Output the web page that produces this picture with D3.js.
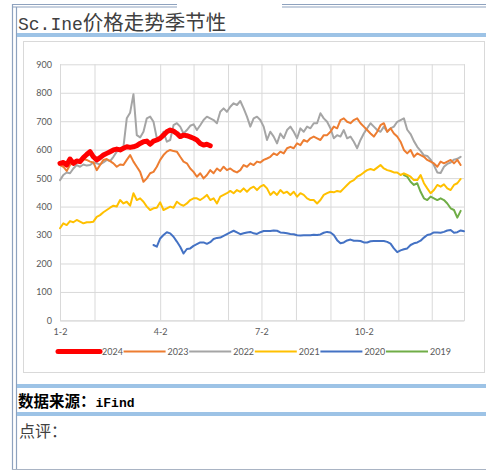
<!DOCTYPE html>
<html>
<head>
<meta charset="utf-8">
<script src="https://cdn.jsdelivr.net/npm/d3@7.9.0/dist/d3.min.js"></script>
<style>
  body { margin: 0; background: #fff; }
  svg { display: block; }
</style>
</head>
<body>
<svg id="chart" width="486" height="472"></svg>
<script>
// --- data (one value every 3 days) ---
const years = ['2024', '2023', '2022', '2021', '2020', '2019'];
const colors = ['#ff0000', '#ed7d31', '#a5a5a5', '#ffc000', '#4472c4', '#70ad47'];
const xTickLabels = ['1-2', '4-2', '7-2', '10-2'];
const gridDays = ['1-2', '2-2', '4-2', '5-2', '6-2', '7-2', '8-2', '9-2', '10-2', '11-2', '12-2', '12-31'];
const yTicks = [0, 100, 200, 300, 400, 500, 600, 700, 800, 900];
const stepDays = 3;
const startDays = [0, 0, 0, 0, 84, 309];

const s2024 = [552, 555, 546, 567, 552, 560, 558, 572, 583, 593, 575, 564, 572, 581, 587, 593, 599, 602, 599, 605,
  610, 608, 610, 614, 622, 628, 630, 619, 630, 634, 640, 651, 663, 669, 665, 657, 646, 651, 649, 645,
  640, 634, 622, 616, 619, 614];

const s2023 = [546, 540, 525, 546, 555, 560, 564, 567, 564, 558, 555, 528, 546, 564, 567, 560, 552, 540, 548, 546,
  564, 581, 558, 540, 522, 487, 499, 517, 522, 540, 564, 581, 593, 599, 595, 593, 575, 558, 552, 534, 522,
  505, 517, 499, 511, 528, 517, 534, 525, 540, 528, 534, 525, 520, 528, 546, 540, 552, 546, 558, 555,
  564, 569, 575, 587, 581, 593, 587, 605, 610, 605, 622, 616, 634, 628, 640, 646, 640, 634, 651, 651, 663,
  681, 675, 704, 710, 698, 693, 704, 710, 693, 681, 669, 657, 646, 663, 686, 693, 663, 675, 657, 646,
  628, 599, 587, 599, 575, 587, 581, 575, 564, 558, 552, 540, 558, 552, 558, 564, 552, 564, 546];

const s2022 = [493, 511, 520, 517, 534, 546, 540, 548, 544, 546, 555, 552, 548, 555, 564, 560, 575, 593, 599, 610,
  710, 730, 795, 651, 643, 663, 710, 716, 698, 640, 642, 663, 628, 634, 686, 693, 681, 657, 669, 684, 689,
  669, 686, 704, 716, 710, 704, 693, 733, 745, 733, 751, 763, 757, 771, 745, 716, 681, 710, 716, 704,
  681, 634, 663, 646, 622, 657, 640, 669, 681, 663, 640, 675, 663, 681, 675, 693, 693, 728, 710, 698, 675,
  640, 651, 646, 669, 640, 646, 628, 605, 634, 657, 675, 693, 681, 669, 663, 681, 663, 675, 681, 698,
  704, 710, 670, 655, 630, 610, 596, 580, 578, 565, 545, 520, 518, 540, 550, 555, 565, 568, 575];

const s2021 = [324, 341, 335, 349, 345, 353, 347, 341, 345, 345, 347, 364, 370, 380, 388, 396, 403, 400, 423, 411,
  417, 403, 447, 423, 429, 417, 400, 388, 394, 396, 415, 388, 394, 400, 396, 417, 408, 403, 411, 423, 429,
  429, 423, 431, 441, 423, 429, 411, 435, 441, 447, 455, 447, 458, 452, 464, 452, 464, 470, 458, 470,
  476, 464, 441, 452, 441, 458, 447, 452, 441, 452, 435, 447, 441, 429, 423, 423, 411, 423, 441, 447, 452,
  450, 455, 452, 464, 476, 487, 493, 505, 511, 520, 528, 532, 528, 537, 546, 534, 528, 525, 520, 520,
  511, 517, 511, 505, 493, 493, 511, 482, 464, 447, 458, 476, 470, 478, 464, 458, 476, 482, 497];

const s2020 = [265, 259, 288, 300, 310, 306, 294, 277, 259, 235, 251, 253, 262, 268, 274, 274, 269, 275, 286, 290,
  291, 297, 303, 309, 315, 309, 303, 306, 309, 311, 306, 304, 310, 314, 314, 314, 316, 315, 309, 308,
  306, 304, 303, 299, 298, 299, 299, 299, 301, 300, 302, 308, 311, 309, 300, 282, 271, 274, 281, 284,
  280, 280, 279, 274, 274, 278, 279, 279, 279, 279, 276, 270, 253, 240, 246, 250, 253, 265, 271, 274,
  280, 291, 300, 303, 309, 309, 308, 311, 316, 318, 308, 310, 316, 313];

const s2019 = [511, 505, 487, 476, 482, 452, 429, 423, 435, 429, 423, 429, 423, 411, 394, 388, 361, 385];

const seriesValues = [s2024, s2023, s2022, s2021, s2020, s2019];

// --- build ---
const svg = d3.select('#chart');
const md = s => { const [m, d] = s.split('-'); return new Date(2023, +m - 1, +d); };
const day0 = md('1-2');

const x = d3.scaleTime().domain([day0, md('12-31')]).range([60, 464]);
const y = d3.scaleLinear().domain([0, 900]).range([320.4, 64.3]);

// page frame
const frame = svg.append('g');
const frameColor = '#8ea2be';
[[12, 177], [282, 486]].forEach(([a, b]) => {
  frame.append('line').attr('x1', a).attr('x2', b).attr('y1', 4.5).attr('y2', 4.5)
    .attr('stroke', frameColor).attr('stroke-width', 1.2);
  frame.append('line').attr('x1', a).attr('x2', b).attr('y1', 7).attr('y2', 7)
    .attr('stroke', frameColor).attr('stroke-width', 1.2);
});
frame.append('line').attr('x1', 12.5).attr('x2', 12.5).attr('y1', 4).attr('y2', 470)
  .attr('stroke', frameColor).attr('stroke-width', 1.2);
frame.append('line').attr('x1', 16.5).attr('x2', 16.5).attr('y1', 7).attr('y2', 470)
  .attr('stroke', frameColor).attr('stroke-width', 1.2);
frame.append('line').attr('x1', 12).attr('x2', 486).attr('y1', 469.5).attr('y2', 469.5)
  .attr('stroke', '#a9b4c4').attr('stroke-width', 1);

// blue separator bands
[[33, 4], [384, 4], [412, 4]].forEach(([top, h]) => {
  frame.append('rect').attr('x', 17).attr('y', top).attr('width', 469).attr('height', h)
    .attr('fill', '#9dc3e6');
});

// title
const title = svg.append('text').attr('x', 18).attr('y', 30).attr('fill', '#404040');
title.append('tspan').attr('font-family', '"Liberation Mono", monospace').attr('font-size', 18).text('Sc.Ine');
title.append('tspan').attr('font-family', '"Noto Sans CJK SC", sans-serif').attr('font-size', 20.5).text('价格走势季节性');

// chart box
svg.append('rect').attr('x', 23.5).attr('y', 41.5).attr('width', 461).attr('height', 331)
  .attr('fill', '#fff').attr('stroke', '#d9d9d9');

// footer texts
const src = svg.append('text').attr('x', 18).attr('y', 407).attr('font-weight', 'bold').attr('fill', '#000');
src.append('tspan').attr('font-family', '"Noto Sans CJK SC", sans-serif').attr('font-size', 15.5).text('数据来源：');
src.append('tspan').attr('font-family', '"Liberation Mono", monospace').attr('font-size', 13).text('iFind');
svg.append('text').attr('x', 19).attr('y', 437)
  .attr('font-family', '"Noto Sans CJK SC", sans-serif')
  .attr('font-size', 16).attr('fill', '#404040').text('点评：');

// axes / grid
const axisFont = 'Lato, "Open Sans", sans-serif';
const gy = svg.append('g').attr('transform', 'translate(60,0)')
  .call(d3.axisLeft(y).tickValues(yTicks).tickSize(-404).tickPadding(8));
gy.select('.domain').remove();
gy.selectAll('line').attr('stroke', '#d9d9d9');
gy.selectAll('text').attr('font-family', axisFont).attr('font-size', 9).attr('fill', '#595959');

const gx = svg.append('g').attr('transform', 'translate(0,320.4)')
  .call(d3.axisBottom(x).tickValues(gridDays.map(md)).tickSize(-(320.4 - 64.3)).tickPadding(8)
    .tickFormat(d => {
      const lab = (d.getMonth() + 1) + '-' + d.getDate();
      return xTickLabels.includes(lab) ? lab : '';
    }));
gx.select('.domain').attr('stroke', '#d9d9d9');
gx.selectAll('line').attr('stroke', '#d9d9d9');
gx.selectAll('text').attr('font-family', axisFont).attr('font-size', 9).attr('fill', '#595959');

// lines (2019 first, 2024 last so it sits on top)
const line = d3.line().x(d => x(d.date)).y(d => y(d.value));
const order = [5, 4, 3, 2, 1, 0];
order.forEach(i => {
  const pts = seriesValues[i].map((v, k) => ({
    date: d3.timeDay.offset(day0, startDays[i] + k * stepDays),
    value: v
  }));
  svg.append('path').datum(pts)
    .attr('d', line)
    .attr('fill', 'none')
    .attr('stroke', colors[i])
    .attr('stroke-width', i === 0 ? 5 : 2)
    .attr('stroke-linejoin', 'round')
    .attr('stroke-linecap', 'round');
});

// legend
const legend = svg.append('g').attr('transform', 'translate(58,351.5)');
years.forEach((yr, i) => {
  const g = legend.append('g').attr('transform', `translate(${i * 65.6},0)`);
  g.append('line').attr('x1', 0).attr('x2', 42).attr('y1', 0).attr('y2', 0)
    .attr('stroke', colors[i]).attr('stroke-width', i === 0 ? 5 : 2)
    .attr('stroke-linecap', i === 0 ? 'round' : 'butt');
  g.append('text').attr('x', 44).attr('y', 3.2)
    .attr('font-family', axisFont).attr('font-size', 9).attr('fill', '#595959').text(yr);
});
</script>
</body>
</html>
